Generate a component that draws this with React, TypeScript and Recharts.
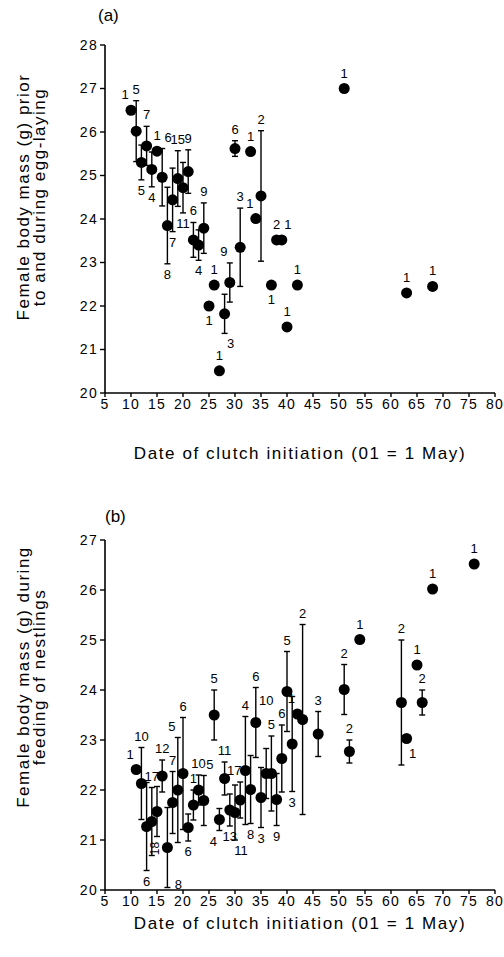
import { ScatterChart, Scatter, XAxis, YAxis, ErrorBar, Label } from "recharts";

// shared axis ticks
const xTicks = [5, 10, 15, 20, 25, 30, 35, 40, 45, 50, 55, 60, 65, 70, 75, 80];
const yTicksA = [20, 21, 22, 23, 24, 25, 26, 27, 28];
const yTicksB = [20, 21, 22, 23, 24, 25, 26, 27];

// (a) prior to and during egg-laying
const datesA = [10, 11, 12, 13, 14, 15, 16, 17, 18, 19, 20, 21, 22, 23, 24, 25, 26, 27, 28, 29, 30, 31, 33, 34, 35, 37, 38, 39, 40, 42, 51, 63, 68];
const massA = [26.5, 26.02, 25.3, 25.68, 25.14, 25.56, 24.96, 23.85, 24.44, 24.93, 24.72, 25.09, 23.52, 23.4, 23.79, 22.0, 22.48, 20.51, 21.82, 22.54, 25.62, 23.35, 25.55, 24.01, 24.53, 22.48, 23.52, 23.52, 21.52, 22.48, 27.0, 22.3, 22.45];
const sdA = [0, 0.7, 0.4, 0.45, 0.4, 0, 0.66, 0.88, 0.73, 0.64, 0.58, 0.5, 0.4, 0.35, 0.58, 0, 0, 0, 0.45, 0.45, 0.18, 0.9, 0, 0, 1.5, 0, 0, 0, 0, 0, 0, 0, 0];
const countA = ["1", "5", "5", "7", "4", "1", "6", "8", "7", "15", "11", "9", "6", "4", "9", "1", "1", "1", "3", "9", "6", "3", "1", "1", "2", "1", "2", "1", "1", "1", "1", "1", "1"];
const sideA = ["tl", "t", "b", "t", "b", "t", "tr", "b", "b", "t", "b", "t", "t", "b", "t", "b", "t", "t", "br", "tl", "t", "t", "t", "tl", "t", "b", "t", "tr", "t", "t", "t", "t", "t"];

// (b) during feeding of nestlings
const datesB = [11, 12, 13, 14, 15, 16, 17, 18, 19, 20, 21, 22, 23, 24, 26, 27, 28, 29, 30, 31, 32, 33, 34, 35, 36, 37, 38, 39, 40, 41, 42, 43, 46, 51, 52, 54, 62, 63, 65, 66, 68, 76];
const massB = [22.41, 22.13, 21.27, 21.37, 21.57, 22.28, 20.85, 21.75, 22.0, 22.33, 21.25, 21.7, 22.0, 21.79, 23.5, 21.41, 22.23, 21.6, 21.55, 21.8, 22.39, 22.01, 23.35, 21.85, 22.33, 22.33, 21.81, 22.63, 23.97, 22.92, 23.52, 23.41, 23.12, 24.01, 22.77, 25.01, 23.75, 23.03, 24.5, 23.75, 26.02, 26.52];
const sdB = [0, 0.72, 0.88, 0.68, 0.5, 0.32, 0.8, 0.62, 1.05, 1.12, 0.27, 0.3, 0.3, 0.5, 0.5, 0.22, 0.33, 0.32, 0.55, 0.36, 1.08, 0.68, 0.7, 0.6, 0.5, 0.75, 0.52, 0.67, 0.8, 0.95, 0, 1.9, 0.45, 0.5, 0.23, 0, 1.25, 0, 0, 0.25, 0, 0];
const countB = ["1", "10", "6", "17", "18", "12", "8", "7", "5", "6", "6", "1", "10", "5", "5", "4", "11", "13", "11", "17", "4", "8", "6", "3", "10", "5", "9", "6", "5", "3", "1", "2", "3", "2", "2", "1", "2", "1", "1", "2", "1", "1"];
const sideB = ["tl", "t", "b", "t", "bv", "t", "r", "t", "tl", "t", "b", "t", "t", "tr", "t", "bl", "t", "b", "br", "tl", "t", "b", "t", "b", "T", "t", "b", "t", "t", "b", "tl", "t", "t", "t", "t", "t", "t", "br", "t", "t", "t", "t"];

const FONT = "'Liberation Sans', Arial, Helvetica, sans-serif";

interface Row {
  x: number;
  y: number;
  sd: number;
  n: string;
  side: string;
  bar?: boolean;
}

function buildRows(dates: number[], mass: number[], sd: number[], n: string[], side: string[]): Row[] {
  return dates.map((d, i) => ({ x: d, y: mass[i], sd: sd[i], n: n[i], side: side[i] }));
}

// label anchor sits at the end of the error bar (or on the dot when there is none)
function buildLabelRows(rows: Row[]): Row[] {
  return rows.map((r) => ({
    ...r,
    y: r.side.startsWith("b") || r.side === "r" ? r.y - r.sd : r.y + r.sd,
    bar: r.sd > 0,
  }));
}

function Dot(props: any) {
  if (props.cx == null || props.cy == null) return null;
  return <circle cx={props.cx} cy={props.cy} r={5.5} fill="#000" />;
}

function CountLabel(props: any) {
  const { cx, cy, payload } = props;
  if (cx == null || cy == null || !payload) return null;
  const side: string = payload.side;
  if (side === "bv") {
    const xx = cx - 2;
    const yy = cy + 12;
    return (
      <text x={xx} y={yy} transform={`rotate(-90 ${xx} ${yy})`} textAnchor="middle" dominantBaseline="central" fontSize={12} fill="#000">
        {payload.n}
      </text>
    );
  }
  if (side === "r") {
    return (
      <text x={cx + 11} y={cy + 1} textAnchor="middle" fontSize={13} fill="#000">
        {payload.n}
      </text>
    );
  }
  if (side === "T") {
    // count lifted well clear of a crowded group
    return (
      <text x={cx} y={cy - 44} textAnchor="middle" fontSize={13} fill="#000">
        {payload.n}
      </text>
    );
  }
  let dx = 0;
  if (side.endsWith("l")) dx = -6;
  else if (side.endsWith("r")) dx = 6;
  const top = side.startsWith("t");
  const y = top ? cy - (payload.bar ? 7 : 11) : cy + (payload.bar ? 15 : 19);
  return (
    <text x={cx + dx} y={y} textAnchor="middle" fontSize={13} fill="#000">
      {payload.n}
    </text>
  );
}

interface PanelProps {
  rows: Row[];
  yTicks: number[];
  height: number;
  margin: { top: number; right: number; bottom: number; left: number };
  tag: string;
  tagX: number;
  tagY: number;
  yTitle: [string, string];
  yTitleY: number;
  xTitleY: number;
}

function Panel({ rows, yTicks, height, margin, tag, tagX, tagY, yTitle, yTitleY, xTitleY }: PanelProps) {
  const labels = buildLabelRows(rows);
  const axisLine = { stroke: "#000", strokeWidth: 1.6 };
  const tickLine = { stroke: "#000", strokeWidth: 1.4 };
  const tick = { fill: "#000", fontSize: 14, letterSpacing: 1.3 };
  return (
    <ScatterChart width={504} height={height} margin={margin}>
      <XAxis
        dataKey="x"
        type="number"
        domain={[5, 80]}
        ticks={xTicks}
        interval={0}
        height={30}
        tickSize={4}
        axisLine={axisLine}
        tickLine={tickLine}
        tick={tick}
      >
        <Label
          content={() => (
            <text x={300} y={xTitleY} textAnchor="middle" fontSize={17} letterSpacing={1.6} fill="#000">
              Date of clutch initiation (01 = 1 May)
            </text>
          )}
        />
      </XAxis>
      <YAxis
        dataKey="y"
        type="number"
        domain={[yTicks[0], yTicks[yTicks.length - 1]]}
        ticks={yTicks}
        interval={0}
        width={60}
        tickSize={5}
        axisLine={axisLine}
        tickLine={tickLine}
        tick={tick}
      >
        <Label
          content={() => (
            <g>
              <text x={tagX} y={tagY} fontSize={17} fill="#000">
                {tag}
              </text>
              <text
                x={28.5}
                y={yTitleY}
                transform={`rotate(-90 28.5 ${yTitleY})`}
                textAnchor="middle"
                fontSize={17}
                letterSpacing={1.5}
                fill="#000"
              >
                <tspan x={28.5} dy={0}>
                  {yTitle[0]}
                </tspan>
                <tspan x={28.5} dy={16}>
                  {yTitle[1]}
                </tspan>
              </text>
            </g>
          )}
        />
      </YAxis>
      <Scatter data={rows} shape={<Dot />} isAnimationActive={false}>
        <ErrorBar dataKey="sd" direction="y" width={3} stroke="#000" strokeWidth={1.4} isAnimationActive={false} />
      </Scatter>
      <Scatter data={labels} shape={<CountLabel />} isAnimationActive={false} />
    </ScatterChart>
  );
}

export default function App() {
  const rowsA = buildRows(datesA, massA, sdA, countA, sideA);
  const rowsB = buildRows(datesB, massB, sdB, countB, sideB);
  return (
    <div style={{ position: "absolute", left: 0, top: 0, width: 504, height: 957, background: "#fff", fontFamily: FONT }}>
      <div style={{ position: "absolute", left: 0, top: 0 }}>
        <Panel
          rows={rowsA}
          yTicks={yTicksA}
          height={480}
          margin={{ top: 45, right: 9, bottom: 57, left: 45 }}
          tag="(a)"
          tagX={98}
          tagY={21}
          yTitle={["Female body mass (g) prior", "to and during egg-laying"]}
          yTitleY={197}
          xTitleY={459}
        />
      </div>
      <div style={{ position: "absolute", left: 0, top: 500 }}>
        <Panel
          rows={rowsB}
          yTicks={yTicksB}
          height={457}
          margin={{ top: 40, right: 9, bottom: 37, left: 45 }}
          tag="(b)"
          tagX={105}
          tagY={22}
          yTitle={["Female body mass (g) during", "feeding of nestlings"]}
          yTitleY={177}
          xTitleY={429}
        />
      </div>
    </div>
  );
}
